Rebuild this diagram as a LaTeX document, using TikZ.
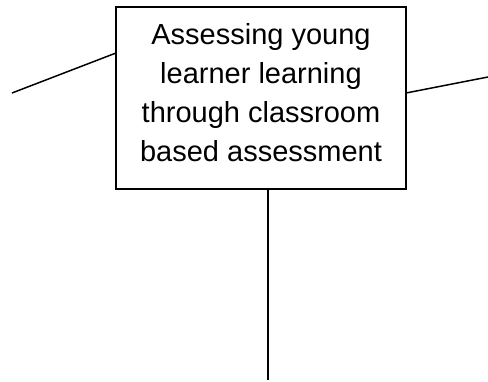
\documentclass[tikz,border=0pt]{standalone}
\usepackage{fontspec}
\setmainfont{Liberation Sans}
\begin{document}
\begin{tikzpicture}[x=1pt,y=-1pt,
  conn/.style={line width=1.5pt},
  boxstyle/.style={draw,line width=1.5pt,minimum width=290pt,minimum height=182pt,inner sep=0pt},
  lblstyle/.style={align=center,inner sep=0pt,font=\fontsize{29}{39}\selectfont}]
\useasboundingbox (0,0) rectangle (488,381);
\node[boxstyle] (box) at (261,98) {};
\node[lblstyle] (lbl) at (261,93) {Assessing young\\learner learning\\through classroom\\based assessment};
\coordinate (lend) at (12,93);
\coordinate (lbox) at (116,53);
\coordinate (rbox) at (406,93);
\coordinate (rend) at (488,77);
\coordinate (bbox) at (268,189);
\coordinate (bend) at (268,380);
\draw[conn] (lend) -- (lbox);
\draw[conn] (rbox) -- (rend);
\draw[conn] (bbox) -- (bend);
\end{tikzpicture}
\end{document}
